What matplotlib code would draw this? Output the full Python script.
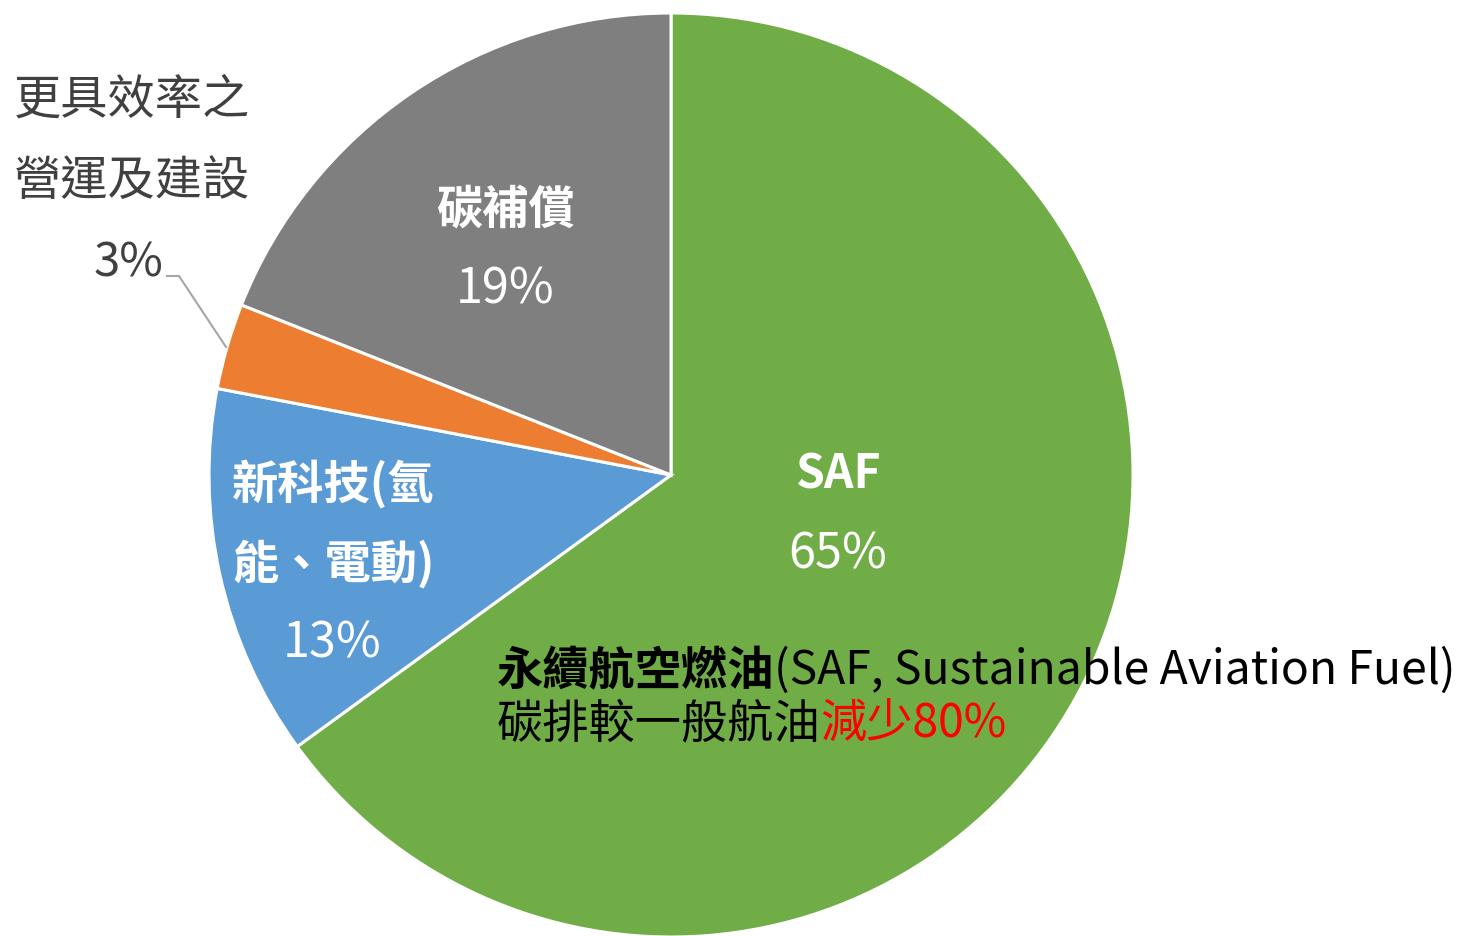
import matplotlib
matplotlib.use("Agg")
import matplotlib.pyplot as plt

plt.rcParams['font.family'] = ['Noto Sans CJK TC', 'DejaVu Sans']

categories = ["SAF", "新科技(氫能、電動)", "更具效率之營運及建設", "碳補償"]
values = [65, 13, 3, 19]
colors = ["#70AD47", "#5B9BD5", "#ED7D31", "#7F7F7F"]

W, H = 1459, 937
fig = plt.figure(figsize=(W / 100, H / 100), dpi=100)
ax = fig.add_axes([0, 0, 1, 1])

cx, cy, r = 671, H - 476, 462
ax.pie(values, colors=colors, startangle=90, counterclock=False,
       center=(cx, cy), radius=r, frame=True,
       wedgeprops=dict(edgecolor='white', linewidth=2.2))
ax.set_xlim(0, W)
ax.set_ylim(0, H)
ax.set_aspect('equal')
ax.axis('off')

def Y(y):
    return H - y

fsb = 33.3   # bold labels
fsp = 35     # inside percentages
fso = 34     # outside label
fsa = 33.3   # annotation

# inside labels
ax.text(505, Y(209), "碳補償", color='white', fontsize=fsb, fontweight='bold', ha='center', va='center')
ax.text(505, Y(290), f"{values[3]}%", color='white', fontsize=fsp, ha='center', va='center')
ax.text(838, Y(475), "SAF", color='white', fontsize=fsb, fontweight='bold', ha='center', va='center')
ax.text(838, Y(555), f"{values[0]}%", color='white', fontsize=fsp, ha='center', va='center')
ax.text(232, Y(485), "新科技(氫", color='white', fontsize=fsb, fontweight='bold', ha='left', va='center')
ax.text(232, Y(564), "能、電動)", color='white', fontsize=fsb, fontweight='bold', ha='left', va='center')
ax.text(332, Y(644), f"{values[1]}%", color='white', fontsize=fsp, ha='center', va='center')

# outside label
ax.text(14, Y(100), "更具效率之", color='#404040', fontsize=fso, ha='left', va='center')
ax.text(14, Y(182), "營運及建設", color='#404040', fontsize=fso, ha='left', va='center')
ax.text(163, Y(263), f"{values[2]}%", color='#404040', fontsize=fso, ha='right', va='center')
ax.plot([167, 179, 226], [Y(277), Y(277), Y(348)], color='#A6A6A6', linewidth=1.5)

# annotation
renderer = fig.canvas.get_renderer()
def chain(x, y, pieces):
    for txt, kw in pieces:
        t = ax.text(x, y, txt, fontsize=fsa, ha='left', va='center', **kw)
        bb = t.get_window_extent(renderer=renderer)
        x = ax.transData.inverted().transform((bb.x1, bb.y0))[0]

chain(497, Y(671), [("永續航空燃油", dict(color='black', fontweight='bold')),
                    ("(SAF, Sustainable Aviation Fuel)", dict(color='black'))])
chain(497, Y(724), [("碳排較一般航油", dict(color='black')),
                    ("減少80%", dict(color='#FF0000'))])

fig.savefig("out.png", dpi=100)
